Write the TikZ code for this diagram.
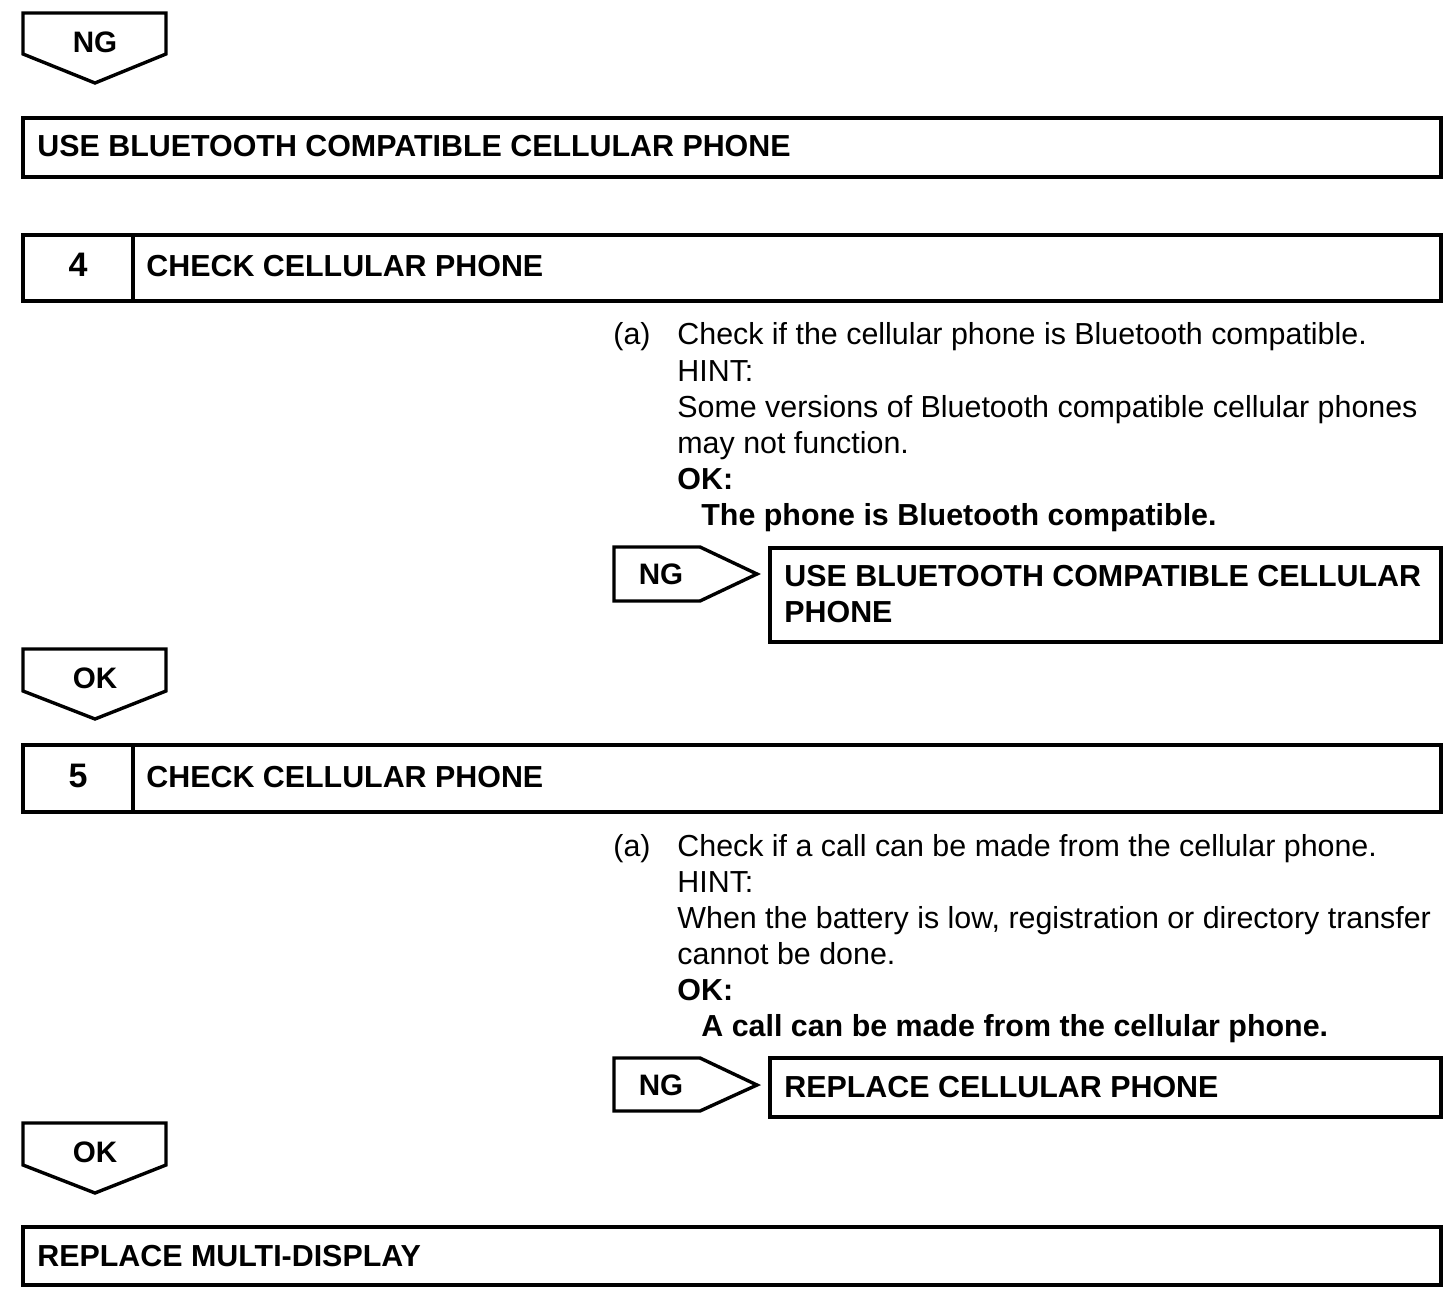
\documentclass[tikz,border=0pt]{standalone}
\usepackage{fontspec}
\setmainfont{Liberation Sans}
\begin{document}
\begin{tikzpicture}[x=0.5pt,y=-0.5pt,
  boxline/.style={draw=black,line width=2pt},
  arrline/.style={draw=black,line width=1.7pt,line join=miter},
  ttl/.style={anchor=base west,inner sep=0pt,font=\fontsize{15.2pt}{18pt}\selectfont\bfseries},
  num/.style={anchor=center,inner sep=0pt,font=\fontsize{17pt}{18pt}\selectfont\bfseries},
  flag/.style={anchor=center,inner sep=0pt,font=\fontsize{14.8pt}{18pt}\selectfont\bfseries},
  body/.style={anchor=base west,inner sep=0pt,font=\fontsize{15.2pt}{18pt}\selectfont},
  bbody/.style={anchor=base west,inner sep=0pt,font=\fontsize{15.2pt}{18pt}\selectfont\bfseries}]
\useasboundingbox[fill=white] (0,0) rectangle (1456,1306);

% top NG down arrow
\draw[arrline] (23,13) -- (166,13) -- (166,54) -- (95,83) -- (23,54) -- cycle;
\node[flag] (ngtop) at (95,42) {NG};

% box 1
\draw[boxline] (23,118) rectangle (1441,177);
\node[ttl] (t1) at (37,156) {USE BLUETOOTH COMPATIBLE CELLULAR PHONE};

% step 4
\draw[boxline] (23,235) rectangle (1441,301);
\draw[boxline] (133,235) -- (133,301);
\node[num] (n4) at (78,265) {4};
\node[ttl] (t4) at (146,276) {CHECK CELLULAR PHONE};

\node[body] (a4) at (613,344) {(a)};
\node[body] (l41) at (677,344) {Check if the cellular phone is Bluetooth compatible.};
\node[body] (l42) at (677,381) {HINT:};
\node[body] (l43) at (677,417) {Some versions of Bluetooth compatible cellular phones};
\node[body] (l44) at (677,453) {may not function.};
\node[bbody] (l45) at (677,489) {OK:};
\node[bbody] (l46) at (701,525) {The phone is Bluetooth compatible.};

% NG right arrow 1
\draw[arrline] (614,547) -- (700,547) -- (757,574) -- (700,601) -- (614,601) -- cycle;
\node[flag] (ng4) at (661,574) {NG};
\draw[boxline] (770,548) rectangle (1441,642);
\node[ttl] (r41) at (784,586) {USE BLUETOOTH COMPATIBLE CELLULAR};
\node[ttl] (r42) at (784,622) {PHONE};

% OK arrow 1
\draw[arrline] (23,649) -- (166,649) -- (166,691) -- (95,719) -- (23,691) -- cycle;
\node[flag] (ok4) at (95,678) {OK};

% step 5
\draw[boxline] (23,745) rectangle (1441,812);
\draw[boxline] (133,745) -- (133,812);
\node[num] (n5) at (78,776) {5};
\node[ttl] (t5) at (146,787) {CHECK CELLULAR PHONE};

\node[body] (a5) at (613,856) {(a)};
\node[body] (l51) at (677,856) {Check if a call can be made from the cellular phone.};
\node[body] (l52) at (677,892) {HINT:};
\node[body] (l53) at (677,928) {When the battery is low, registration or directory transfer};
\node[body] (l54) at (677,964) {cannot be done.};
\node[bbody] (l55) at (677,1000) {OK:};
\node[bbody] (l56) at (701,1036) {A call can be made from the cellular phone.};

% NG right arrow 2
\draw[arrline] (614,1058) -- (700,1058) -- (757,1085) -- (700,1111) -- (614,1111) -- cycle;
\node[flag] (ng5) at (661,1085) {NG};
\draw[boxline] (770,1058) rectangle (1441,1117);
\node[ttl] (r5) at (784,1097) {REPLACE CELLULAR PHONE};

% OK arrow 2
\draw[arrline] (23,1123) -- (166,1123) -- (166,1165) -- (95,1193) -- (23,1165) -- cycle;
\node[flag] (ok5) at (95,1152) {OK};

% final box
\draw[boxline] (23,1227) rectangle (1441,1285);
\node[ttl] (tf) at (37,1266) {REPLACE MULTI-DISPLAY};
\end{tikzpicture}
\end{document}
